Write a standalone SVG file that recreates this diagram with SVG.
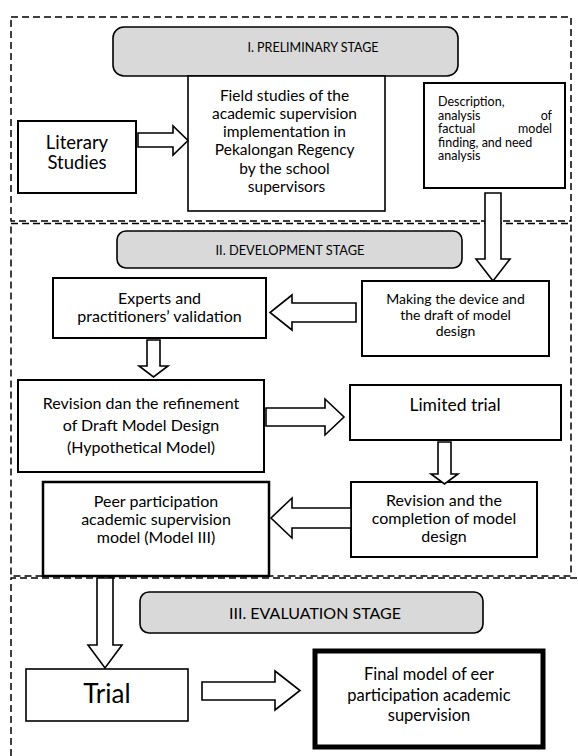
<svg xmlns="http://www.w3.org/2000/svg" width="578" height="756" viewBox="0 0 578 756">
<style>
  text { font-family: Lato, "Liberation Sans", sans-serif; fill: #000; }
  .c { text-anchor: middle; }
  .box { fill: #fff; stroke: #000; stroke-width: 2; }
  .pill { fill: #d9d9d9; stroke: #000; stroke-width: 1.6; }
  .dash { fill: none; stroke: #000; stroke-width: 1.5; stroke-dasharray: 7 4; }
  .arrow { fill: #fff; stroke: #000; stroke-width: 1.6; stroke-linejoin: miter; }
  .d { font-size: 12.5px; }
</style>
<rect width="578" height="756" fill="#fff"/>

<g id="sections">
  <rect class="dash" x="11" y="17" width="560" height="204"/>
  <rect class="dash" x="11" y="223.5" width="560" height="352.5"/>
  <path class="dash" d="M11,756 V578 H584"/>
</g>

<g id="stage1">
  <rect class="pill" x="113" y="27" width="345" height="49" rx="11"/>
  <text class="c" x="313" y="52" font-size="12.5">I. PRELIMINARY STAGE</text>
</g>

<g id="literary">
  <rect class="box" x="18" y="121" width="118" height="72"/>
  <text class="c" x="77" y="149" font-size="18.5">Literary</text>
  <text class="c" x="77" y="169" font-size="18.5">Studies</text>
</g>

<g id="field">
  <rect class="box" x="188" y="76" width="197" height="135" style="stroke-width:1.6"/>
  <text class="c" x="286.5" font-size="15.5">
    <tspan x="286.5" y="101">Field studies of the</tspan>
    <tspan x="286.5" y="119">academic supervision</tspan>
    <tspan x="286.5" y="137">implementation in</tspan>
    <tspan x="286.5" y="155">Pekalongan Regency</tspan>
    <tspan x="286.5" y="173.5">by the school</tspan>
    <tspan x="286.5" y="192">supervisors</tspan>
  </text>
</g>

<g id="description">
  <rect class="box" x="424" y="83" width="141" height="105"/>
  <text class="d" x="438" y="106">Description,</text>
  <text class="d" x="438" y="119.5">analysis</text>
  <text class="d" x="552" y="119.5" text-anchor="end">of</text>
  <text class="d" x="438" y="133">factual</text>
  <text class="d" x="552" y="133" text-anchor="end">model</text>
  <text class="d" x="438" y="146.5">finding, and need</text>
  <text class="d" x="438" y="160">analysis</text>
</g>

<g id="stage2">
  <rect class="pill" x="117" y="231" width="345" height="37" rx="9"/>
  <text class="c" x="290" y="255" font-size="12.8">II. DEVELOPMENT STAGE</text>
</g>

<g id="experts">
  <rect class="box" x="53" y="278" width="213" height="60"/>
  <text class="c" x="159.5" y="303.5" font-size="16">Experts and</text>
  <text class="c" x="159.5" y="321.5" font-size="16">practitioners’ validation</text>
</g>

<g id="making">
  <rect class="box" x="362" y="281" width="187" height="75"/>
  <text class="c" x="455.5" y="304" font-size="14">Making the device and</text>
  <text class="c" x="455.5" y="320" font-size="14">the draft of model</text>
  <text class="c" x="455.5" y="336" font-size="14">design</text>
</g>

<g id="revision">
  <rect class="box" x="18" y="380" width="246" height="92"/>
  <text class="c" x="141" y="409" font-size="16">Revision dan the refinement</text>
  <text class="c" x="141" y="431" font-size="16">of Draft Model Design</text>
  <text class="c" x="141" y="453" font-size="16">(Hypothetical Model)</text>
</g>

<g id="limited">
  <rect class="box" x="350" y="385" width="211" height="55"/>
  <text class="c" x="455" y="411" font-size="17.5">Limited trial</text>
</g>

<g id="revision2">
  <rect class="box" x="351" y="482" width="186" height="75"/>
  <text class="c" x="444" y="506" font-size="16">Revision and the</text>
  <text class="c" x="444" y="524" font-size="16">completion of model</text>
  <text class="c" x="444" y="542" font-size="16">design</text>
</g>

<g id="peer">
  <rect class="box" x="43" y="482" width="226" height="94" style="stroke-width:2.5"/>
  <text class="c" x="156" y="507" font-size="16">Peer participation</text>
  <text class="c" x="156" y="525" font-size="16">academic supervision</text>
  <text class="c" x="156" y="543" font-size="16">model (Model III)</text>
</g>

<g id="stage3">
  <rect class="pill" x="140" y="592" width="343" height="41" rx="9"/>
  <text class="c" x="315" y="619" font-size="16">III. EVALUATION STAGE</text>
</g>

<g id="trial">
  <rect class="box" x="26" y="669" width="162" height="52" style="stroke-width:1.6"/>
  <text class="c" x="107" y="703" font-size="26">Trial</text>
</g>

<g id="final">
  <rect class="box" x="315" y="651" width="228" height="96" style="stroke-width:5"/>
  <text class="c" x="429" y="680" font-size="16.5">Final model of eer</text>
  <text class="c" x="429" y="700.5" font-size="16.5">participation academic</text>
  <text class="c" x="429" y="721" font-size="16.5">supervision</text>
</g>

<g id="connectors">
  <polygon class="arrow" points="138,133 173,133 173,126 188,140.5 173,155 173,147 138,147"/>
  <polygon class="arrow" points="485,193 501,193 501,259 510,259 493,281 476,259 485,259"/>
  <polygon class="arrow" points="356,303 292,303 292,295 270,312.5 292,330 292,322 356,322"/>
  <polygon class="arrow" points="147,340 160,340 160,366 168,366 153.5,377 139,366 147,366"/>
  <polygon class="arrow" points="266,408 325,408 325,399 344,417 325,435 325,426 266,426"/>
  <polygon class="arrow" points="438,442 451,442 451,474 458,474 444.5,484 431,474 438,474"/>
  <polygon class="arrow" points="351,508 292,508 292,498 271,518 292,538 292,528 351,528"/>
  <polygon class="arrow" points="97,578 113,578 113,645 122,645 105,668 88,645 97,645"/>
  <polygon class="arrow" points="202,682 275,682 275,671 300,690.5 275,710 275,700 202,700"/>
</g>
</svg>
